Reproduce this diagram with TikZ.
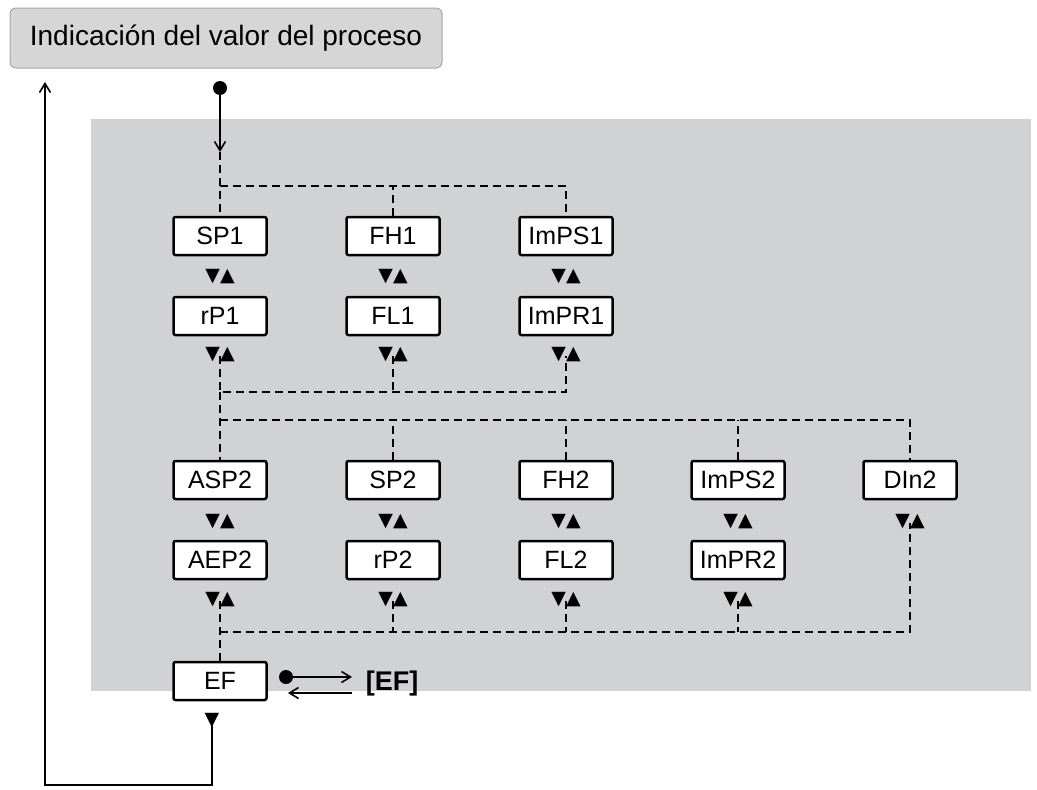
\documentclass[tikz,border=0pt]{standalone}
\usepackage{fontspec}
\setmainfont{Liberation Sans}
\newfontfamily\symf{DejaVu Sans}
\usetikzlibrary{arrows.meta}
\definecolor{panel}{HTML}{D1D2D4}
\definecolor{ttl}{HTML}{D6D6D6}
\begin{document}
\begin{tikzpicture}[x=1pt,y=-1pt,
  box/.style={draw=black,line width=2.5pt,fill=white,minimum width=93pt,minimum height=38pt,inner sep=0pt,font=\fontsize{25}{25}\selectfont,rounded corners=2pt},
  ud/.style={inner sep=0pt,font=\symf\fontsize{19}{19}\selectfont},
  dsh/.style={line width=1.6pt,dash pattern=on 8pt off 5pt},
  sol/.style={line width=1.6pt},
  oarr/.style={sol,-{Straight Barb[length=9pt,width=11pt,line width=1.6pt]}}]
\useasboundingbox (0,0) rectangle (1037,790);
\node[draw=black!35,line width=1pt,fill=ttl,rounded corners=6pt,minimum width=432pt,minimum height=60pt,inner sep=0pt,font=\fontsize{28}{28}\selectfont] (title) at (226,38) {Indicación del valor del proceso};
\fill[panel] (91,119) rectangle (1031,691);
% boxes
\foreach \n/\t/\x/\y in {sp1/SP1/220/236, fh1/FH1/393/236, imps1/ImPS1/566/236,
  rp1/rP1/220/316, fl1/FL1/393/316, impr1/ImPR1/566/316,
  asp2/ASP2/220/480, sp2/SP2/393/480, fh2/FH2/566/480, imps2/ImPS2/738/480, din2/DIn2/910/480,
  aep2/AEP2/220/560, rp2/rP2/393/560, fl2/FL2/566/560, impr2/ImPR2/738/560, ef/EF/220/681}
  {\node[box] (\n) at (\x,\y) {\t};}
\foreach \n/\x/\y in {a1/220/277, b1/393/277, c1/566/277,
  a2/220/355, b2/393/355, c2/566/355,
  a3/220/522, b3/393/522, c3/566/522, d3/738/522, e3/910/522,
  a4/220/600, b4/393/600, c4/566/600, d4/738/600}
  {\node[ud] (\n) at (\x,\y) {▼▲};}
\node[ud] (efd) at (212,721) {▼};
% top entry
\fill (220,88) circle (7pt);
\coordinate (dot) at (220,95);
\coordinate (j0) at (220,152);
\draw[oarr] (dot) -- (j0);
\coordinate (j1) at (220,186);
\coordinate (j1r) at (566,186);
\draw[dsh] (j0) -- (sp1.north);
\draw[dsh] (j1) -- (j1r) -- (imps1.north);
\draw[dsh] (fh1.north) -- (fh1.north |- j1);
% row 2 join
\coordinate (j2) at (220,392);
\coordinate (j2r) at (566,392);
\draw[dsh] ([yshift=6pt]a2.south) -- (j2) -- (j2r) -- ([yshift=6pt]c2.south);
\draw[dsh] ([yshift=6pt]b2.south) -- (393,392);
\coordinate (j3) at (220,420);
\coordinate (j3r) at (910,420);
\draw[dsh] (j2) -- (asp2.north);
\draw[dsh] (j3) -- (j3r) -- (din2.north);
\foreach \n in {sp2,fh2,imps2} \draw[dsh] (\n.north) -- (\n.north |- j3);
% row 4 join
\coordinate (j4) at (220,632);
\coordinate (j4r) at (910,632);
\draw[dsh] ([yshift=6pt]a4.south) -- (ef.north);
\draw[dsh] (j4) -- (j4r) -- ([yshift=6pt]e3.south);
\foreach \n in {b4,c4,d4} \draw[dsh] ([yshift=6pt]\n.south) -- (\n.south |- j4);
% EF side
\fill (286,677) circle (7pt);
\coordinate (e1) at (292,677);
\node[inner sep=0pt,font=\bfseries\fontsize{27}{27}\selectfont] (efl) at (392,684) {[EF]};
\draw[oarr] (e1) -- (352,677);
\draw[oarr] (352,693) -- (288,693);
% return loop
\coordinate (r1) at (212,785);
\coordinate (r2) at (45,785);
\coordinate (r3) at (45,82);
\draw[oarr] ([yshift=6pt]efd.south) -- (r1) -- (r2) -- (r3);
\end{tikzpicture}
\end{document}
